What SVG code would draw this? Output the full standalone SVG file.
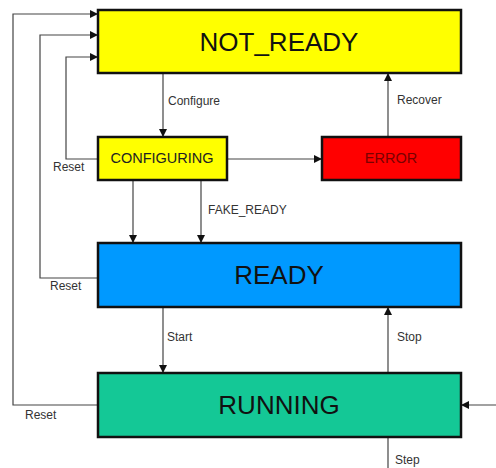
<svg xmlns="http://www.w3.org/2000/svg" width="496" height="468" viewBox="0 0 496 468">
<defs>
<marker id="arr" viewBox="0 0 10 10" refX="10" refY="5" markerWidth="8" markerHeight="8" markerUnits="userSpaceOnUse" orient="auto">
<path d="M0,0 L10,5 L0,10 z" fill="#111"/>
</marker>
<style>
.box{stroke:#111;stroke-width:2.5}
.big{font-family:"Liberation Sans",Arial,sans-serif;font-size:26px;fill:#111;text-anchor:middle}
.mid{font-family:"Liberation Sans",Arial,sans-serif;font-size:14.5px;fill:#222;text-anchor:middle}
.lbl{font-family:"Liberation Sans",Arial,sans-serif;font-size:12px;fill:#333}
.ln{fill:none;stroke:#444;stroke-width:1.2}
</style>
</defs>
<rect width="496" height="468" fill="#fff"/>
<g id="connectors">
<path class="ln" d="M163,73 V137" marker-end="url(#arr)"/>
<path class="ln" d="M98,159 H66 V57 H98" marker-end="url(#arr)"/>
<path class="ln" d="M227,159 H322" marker-end="url(#arr)"/>
<path class="ln" d="M388,137 V73" marker-end="url(#arr)"/>
<path class="ln" d="M133,180 V243" marker-end="url(#arr)"/>
<path class="ln" d="M201,180 V243" marker-end="url(#arr)"/>
<path class="ln" d="M98,278 H40 V35 H98" marker-end="url(#arr)"/>
<path class="ln" d="M163,307 V373" marker-end="url(#arr)"/>
<path class="ln" d="M388,373 V307" marker-end="url(#arr)"/>
<path class="ln" d="M98,405 H13 V14 H98" marker-end="url(#arr)"/>
<path class="ln" d="M388,437 V468"/>
<path class="ln" d="M496,405 H461" marker-end="url(#arr)"/>
<text class="lbl" x="168" y="105">Configure</text>
<text class="lbl" x="53" y="171">Reset</text>
<text class="lbl" x="397" y="104">Recover</text>
<text class="lbl" x="208" y="214">FAKE_READY</text>
<text class="lbl" x="50" y="290">Reset</text>
<text class="lbl" x="167" y="341">Start</text>
<text class="lbl" x="397" y="341">Stop</text>
<text class="lbl" x="25" y="419">Reset</text>
<text class="lbl" x="395" y="464">Step</text>
</g>
<g id="not_ready">
<rect class="box" x="98" y="10" width="363" height="63" fill="#ffff00"/>
<text class="big" x="279" y="51">NOT_READY</text>
</g>
<g id="configuring">
<rect class="box" x="98" y="137" width="129" height="43" fill="#ffff00"/>
<text class="mid" x="162" y="163">CONFIGURING</text>
</g>
<g id="error">
<rect class="box" x="322" y="137" width="139" height="43" fill="#ff0000"/>
<text class="mid" x="391" y="163" style="fill:#7a0000">ERROR</text>
</g>
<g id="ready">
<rect class="box" x="98" y="243" width="363" height="64" fill="#0099ff"/>
<text class="big" x="279" y="284">READY</text>
</g>
<g id="running">
<rect class="box" x="98" y="373" width="363" height="64" fill="#14c896"/>
<text class="big" x="279" y="414">RUNNING</text>
</g>
</svg>
